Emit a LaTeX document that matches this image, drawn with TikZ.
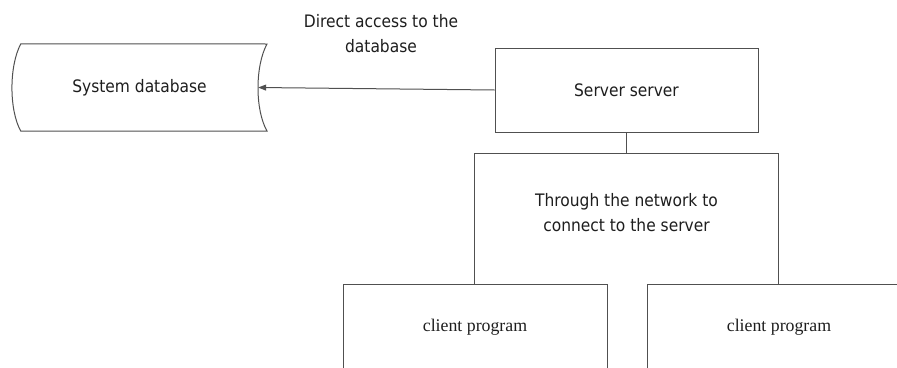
\documentclass[tikz,border=0pt]{standalone}
\usepackage{fontspec}
\setmainfont{Liberation Serif}
\newfontfamily\sansf[FakeStretch=0.9]{DejaVu Sans}
\usetikzlibrary{arrows.meta}
\definecolor{linec}{RGB}{80,80,80}
\definecolor{txtc}{RGB}{30,30,30}
\begin{document}
\begin{tikzpicture}[x=1pt,y=-1pt,
  boxshape/.style={draw=linec, line width=1pt, rectangle, inner sep=0pt},
  sanstext/.style={font=\sansf\fontsize{17.2}{25}\selectfont, text=txtc, align=center},
  seriftext/.style={font=\fontsize{17.8}{21}\selectfont, text=txtc, align=center},
  conn/.style={draw=linec, line width=1pt}]
\useasboundingbox (0,0) rectangle (897,367);
\clip (0,0) rectangle (897,367);
\fill[white] (0,0) rectangle (897,367);

% database (text node; outline drawn around it)
\node[sanstext, inner sep=0pt, minimum width=237pt, minimum height=87pt] (db) at (139.5,87.5) {System database};
\draw[conn] (db.north west) -- (267,44)
  .. controls (255,66) and (255,110) .. (267,131)
  -- (db.south west)
  .. controls (9,110) and (9,66) .. (db.north west) -- cycle;

% server
\node[boxshape, sanstext, minimum width=263pt, minimum height=84pt] (server) at (626.5,90) {Server server};

% network box (open at the bottom)
\node[inner sep=0pt, minimum width=303pt, minimum height=130pt,
  label={[name=nettext, sanstext, yshift=6.5pt]center:{Through the network to\\connect to the server}}] (net) at (626.5,219) {};
\draw[conn] (net.south west) -- (net.north west) -- (net.north east) -- (net.south east);

% clients
\node[boxshape, seriftext, minimum width=264pt, minimum height=86pt] (c1) at (475,327) {client program};
\node[boxshape, seriftext, minimum width=264pt, minimum height=86pt] (c2) at (779,327) {client program};

% label of arrow
\node[sanstext] (lbl) at (381,33.5) {Direct access to the\\database};

% connectors
\draw[conn, -{Triangle[length=8pt,width=6pt]}] (server.west) -- (db.east);
\draw[conn] (server.south) -- (net.north);
\end{tikzpicture}
\end{document}
